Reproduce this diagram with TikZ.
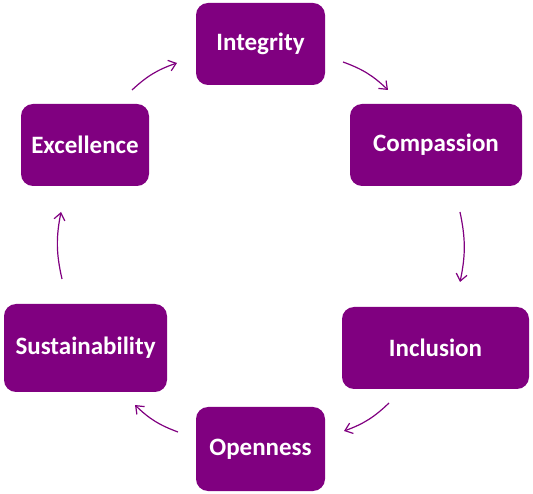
\documentclass[tikz,border=0pt]{standalone}
\usepackage{fontspec}
\setmainfont{Carlito}
\usepackage{tikz}
\usetikzlibrary{arrows.meta}
\definecolor{valpurple}{RGB}{128,0,128}

\begin{document}
\begin{tikzpicture}[x=1pt,y=1pt,
  value/.style={rectangle, rounded corners=12pt, fill=valpurple, text=white,
    font=\fontsize{25}{29}\selectfont\bfseries, inner sep=0pt},
  cyc/.style={draw=valpurple, line width=1.2pt, -{Straight Barb[length=7pt,width=11pt]}}]
\useasboundingbox (0,0) rectangle (533,493);
% Values
\node[value, minimum width=129pt, minimum height=82pt] (integ) at (260.5,449) {Integrity};
\node[value, minimum width=172pt, minimum height=82pt] (compa) at (436,348) {Compassion};
\node[value, minimum width=187pt, minimum height=82pt] (inclu) at (435.5,145) {Inclusion};
\node[value, minimum width=129pt, minimum height=84pt] (openn) at (260.5,44) {Openness};
\node[value, minimum width=163pt, minimum height=88pt] (susta) at (85.5,145) {Sustainability};
\node[value, minimum width=128pt, minimum height=82pt] (excel) at (85,348) {Excellence};

% Arrow ends
\coordinate (ei0) at (132,403);
\coordinate (ei1) at (177,430);
\coordinate (ic0) at (343,431);
\coordinate (ic1) at (388,403);
\coordinate (cn0) at (460,281);
\coordinate (cn1) at (460,211);
\coordinate (no0) at (389,90);
\coordinate (no1) at (344,62);
\coordinate (os0) at (178,61);
\coordinate (os1) at (135,88);
\coordinate (se0) at (62,214);
\coordinate (se1) at (61,281);

%Arrows
\draw[cyc] (ei0) to[bend left=12] (ei1);
\draw[cyc] (ic0) to[bend left=12] (ic1);
\draw[cyc] (cn0) to[bend left=12] (cn1);
\draw[cyc] (no0) to[bend left=12] (no1);
\draw[cyc] (os0) to[bend left=12] (os1);
\draw[cyc] (se0) to[bend left=12] (se1);
\end{tikzpicture}
\end{document}
